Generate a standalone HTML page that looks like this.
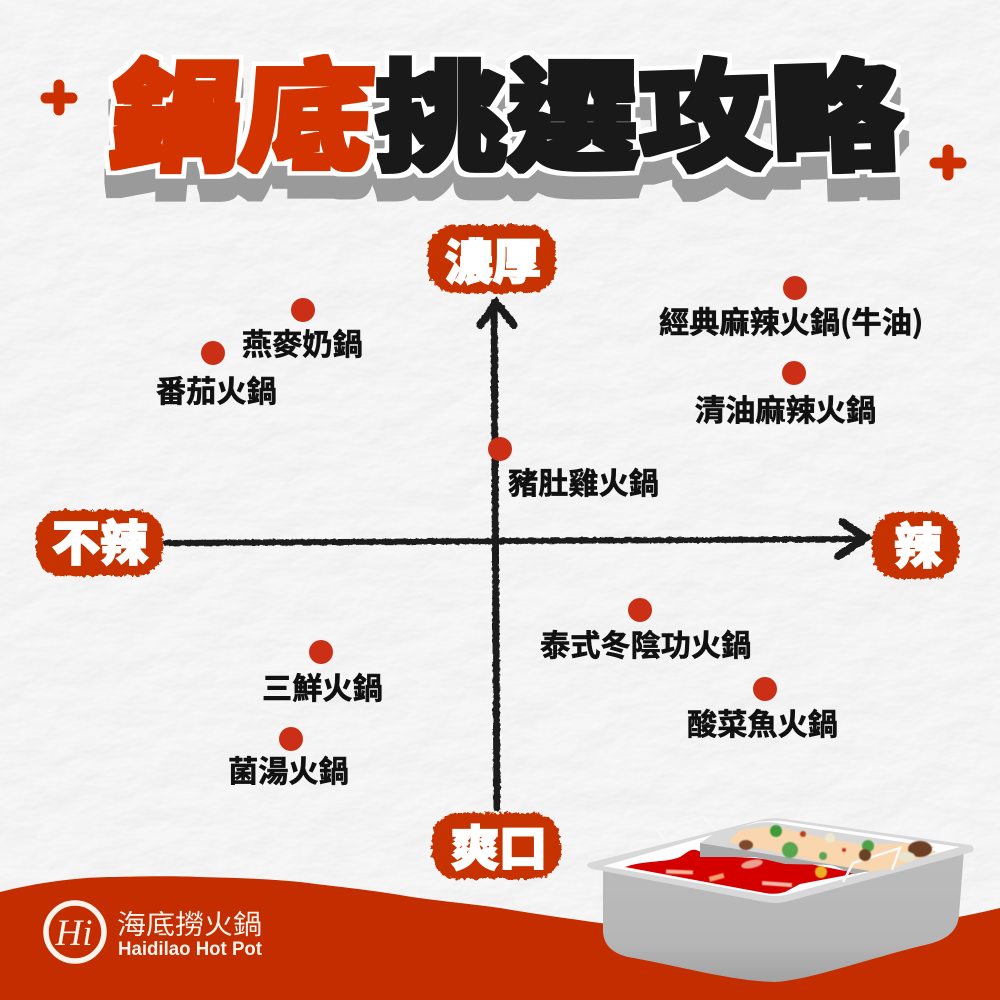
<!DOCTYPE html>
<html lang="zh-Hant"><head><meta charset="utf-8"><title>鍋底挑選攻略</title>
<style>
html,body{margin:0;padding:0;background:#f1f1f0}
svg{display:block}
text{font-family:"Liberation Sans","Noto Sans CJK TC",sans-serif}
.cjk{font-family:"Noto Sans CJK TC","Noto Sans CJK JP",sans-serif}
.l{font-size:30.2px;font-weight:700;fill:#111;stroke:#111;stroke-width:.6px}
.b{font-size:48px;font-weight:900;fill:#fff;stroke:#fff;stroke-width:1.8px;text-anchor:middle}
.t{font-size:130px;font-weight:900;text-anchor:middle}
</style></head><body>
<svg width="1000" height="1000" viewBox="0 0 1000 1000" xmlns="http://www.w3.org/2000/svg">
<defs>
<filter id="paper" x="0" y="0" width="100%" height="100%">
<feTurbulence type="fractalNoise" baseFrequency="0.018 0.03" numOctaves="4" seed="7"/>
<feDiffuseLighting surfaceScale="0.8" diffuseConstant="1.13" lighting-color="#f4f4f4"><feDistantLight azimuth="60" elevation="62"/></feDiffuseLighting>
</filter>
<filter id="rough" x="-15%" y="-15%" width="130%" height="130%">
<feTurbulence type="fractalNoise" baseFrequency="0.22" numOctaves="3" seed="4" result="n"/>
<feDisplacementMap in="SourceGraphic" in2="n" scale="7" xChannelSelector="R" yChannelSelector="G"/>
</filter>
<filter id="rough2" x="-10%" y="-10%" width="120%" height="120%">
<feTurbulence type="fractalNoise" baseFrequency="0.25" numOctaves="2" seed="9" result="n"/>
<feDisplacementMap in="SourceGraphic" in2="n" scale="3" xChannelSelector="R" yChannelSelector="G"/>
</filter>
<filter id="title" x="-5%" y="-10%" width="110%" height="140%" color-interpolation-filters="sRGB">
<feMorphology in="SourceGraphic" operator="dilate" radius="2.5" result="bold"/>
<feMorphology in="SourceAlpha" operator="dilate" radius="7" result="fat"/>
<feFlood flood-color="#ffffff"/><feComposite in2="fat" operator="in" result="white"/>
<feOffset in="fat" dy="23" result="sh"/>
<feFlood flood-color="#9a9a9a"/><feComposite in2="sh" operator="in" result="gray"/>
<feMerge><feMergeNode in="gray"/><feMergeNode in="white"/><feMergeNode in="bold"/></feMerge>
</filter>
<filter id="soft"><feGaussianBlur stdDeviation=".45"/></filter>
<linearGradient id="pot" x1="0" y1="0" x2="0" y2="1"><stop offset="0" stop-color="#bcbcbc"/><stop offset=".7" stop-color="#b6b6b6"/><stop offset="1" stop-color="#a2a2a2"/></linearGradient>
</defs>

<rect width="1000" height="1000" fill="#f1f1f0"/>
<rect width="1000" height="1000" filter="url(#paper)"/>

<!-- title -->
<g filter="url(#title)" class="cjk">
<text class="t cjk" fill="#d33300" transform="translate(172,160) scale(1.02,.92) skewX(-5)">鍋</text>
<text class="t cjk" fill="#d33300" transform="translate(304,160) scale(1.02,.92) skewX(-4)">底</text>
<text class="t cjk" fill="#191919" transform="translate(441,160) scale(1.02,.92)">挑</text>
<text class="t cjk" fill="#191919" transform="translate(573,160) scale(1.02,.92)">選</text>
<text class="t cjk" fill="#191919" transform="translate(706,160) scale(1.02,.92) rotate(-2)">攻</text>
<text class="t cjk" fill="#191919" transform="translate(838,160) scale(1.02,.92) rotate(-2)">略</text>
</g>

<!-- plus signs -->
<g stroke="#cc3000" stroke-width="11" stroke-linecap="round">
<path d="M59 85V110M46 98H72"/>
<path d="M948 150V175M935 163H961"/>
</g>

<!-- axes -->
<g fill="none" stroke="#1c1c1c" stroke-linecap="round" stroke-linejoin="miter" filter="url(#rough2)">
<path d="M166 543L864 539" stroke-width="6"/>
<path d="M842 522L866 538L838 556" stroke-width="8"/>
<path d="M497 808L494 302" stroke-width="7"/>
<path d="M480 325L496 303L514 325" stroke-width="8"/>
</g>

<!-- badges -->
<g fill="#c63200" filter="url(#rough)">
<rect x="428" y="225" width="128" height="68" rx="26"/>
<rect x="36" y="510" width="127" height="66" rx="26"/>
<rect x="872" y="512" width="87" height="67" rx="28"/>
<rect x="432" y="813" width="128" height="66" rx="26"/>
</g>
<text class="b cjk" x="493" y="279">濃厚</text>
<text class="b cjk" x="100" y="560">不辣</text>
<text class="b cjk" x="918" y="563">辣</text>
<text class="b cjk" x="499" y="865">爽口</text>

<!-- dots -->
<g fill="#cb2f16">
<circle cx="303" cy="310" r="12"/><circle cx="213" cy="353" r="12"/>
<circle cx="795" cy="288" r="12"/><circle cx="794" cy="373" r="12"/>
<circle cx="500" cy="449" r="12"/><circle cx="640" cy="610" r="12"/>
<circle cx="765" cy="689" r="12"/><circle cx="321" cy="652" r="12"/>
<circle cx="291" cy="739" r="12"/>
</g>

<!-- labels -->
<g>
<text class="l cjk" x="242" y="355">燕麥奶鍋</text>
<text class="l cjk" x="156" y="402">番茄火鍋</text>
<text class="l cjk" x="659" y="333">經典麻辣火鍋(牛油)</text>
<text class="l cjk" x="695" y="421">清油麻辣火鍋</text>
<text class="l cjk" x="508" y="494">豬肚雞火鍋</text>
<text class="l cjk" x="540" y="656">泰式冬陰功火鍋</text>
<text class="l cjk" x="687" y="735">酸菜魚火鍋</text>
<text class="l cjk" x="262" y="699">三鮮火鍋</text>
<text class="l cjk" x="228" y="782">菌湯火鍋</text>
</g>

<!-- bottom wave -->
<path d="M0 892C40 882 80 877 115 877C150 876 180 876 200 877C240 878 270 879 300 882C340 887 370 890 400 895C435 901 465 903 500 908C535 914 565 918 600 923C660 930 730 938 790 935C860 932 930 925 1000 908V1000H0Z" fill="#c32d00"/>

<!-- logo -->
<circle cx="75" cy="932" r="29" fill="none" stroke="#fbf3ec" stroke-width="5.5"/>
<text x="74" y="945" text-anchor="middle" style="font-family:'Liberation Serif',serif;font-style:italic;font-size:37px" fill="#fbf3ec">Hi</text>
<text class="cjk" x="117" y="934" font-size="27" fill="#fbf3ec" textLength="145" lengthAdjust="spacingAndGlyphs">海底撈火鍋</text>
<text x="118" y="955" font-size="19" font-weight="700" fill="#fbf3ec" textLength="144" lengthAdjust="spacingAndGlyphs">Haidilao Hot Pot</text>

<!-- pot -->
<g>
<path d="M667 843L657 830L703 817L717 832" fill="none" stroke="#f7f7f7" stroke-width="2.5" stroke-linejoin="round"/>
<path d="M603 868V932C604 945 612 953 628 957C680 966 730 981 775 982C810 980 870 958 925 945C948 940 958 930 959 915L964 850L780 890Z" fill="url(#pot)"/>
<path d="M588 863L760 820Q772 817 785 819L970 845Q976 848 972 852L785 902Q775 904 765 902L592 869Q585 866 588 863Z" fill="#d8d8d8"/>
<path d="M603 866L757 822Q772 820 782 821L960 847L785 895Q775 897 765 895Z" fill="#fdfdfd"/>
<path d="M700 843L717 832L757 823Q770 821 782 824L935 847L868 872Z" fill="#d8d8d8"/>
<path d="M728 842L740 830L773 826L823 838L863 845L907 843L937 852L893 868L868 872Z" fill="#f9d6ad"/>
<path d="M625 867C645 860 665 863 680 857C688 852 690 849 696 850C702 852 702 853 705 855C730 858 745 856 770 860C790 858 825 868 858 873L800 884L785 892Q775 895 765 893Z" fill="#d40000"/>
<path d="M700 843L870 871L853 874L832 865L785 864L755 857L700 857Z" fill="#a9a9a9"/>
<path d="M843 882L853 863L900 848L892 870" fill="none" stroke="#f8f8f8" stroke-width="2.5"/>
<g filter="url(#soft)">
<circle cx="776" cy="831" r="6" fill="#3f9a3b"/><circle cx="790" cy="850" r="8" fill="#56a64e"/>
<circle cx="868" cy="846" r="6" fill="#4da14a"/><circle cx="823" cy="856" r="4" fill="#5fa555"/>
<ellipse cx="746" cy="845" rx="7" ry="5" fill="#7b4a2c"/><circle cx="865" cy="855" r="6" fill="#6b4226"/>
<ellipse cx="920" cy="849" rx="12" ry="8" fill="#6d3f26"/>
<circle cx="830" cy="838" r="5" fill="#eee8cf"/><ellipse cx="907" cy="857" rx="8" ry="5" fill="#e8e6cf"/>
<circle cx="803" cy="834" r="3" fill="#b8431e"/><circle cx="844" cy="850" r="2" fill="#c8341c"/>
<rect x="666" y="870" width="27" height="4" fill="#f6b49a" transform="rotate(2 680 872)"/>
<rect x="709" y="875" width="15" height="5" fill="#f2a070" transform="rotate(-15 716 877)"/>
<ellipse cx="752" cy="864" rx="11" ry="4" fill="#e8a090" transform="rotate(-12 752 864)"/>
<rect x="762" y="882" width="30" height="4" fill="#f4b8a8" transform="rotate(4 776 884)"/>
<circle cx="821" cy="872" r="6" fill="#e8b020"/>
</g>
</g>
</svg>
</body></html>
